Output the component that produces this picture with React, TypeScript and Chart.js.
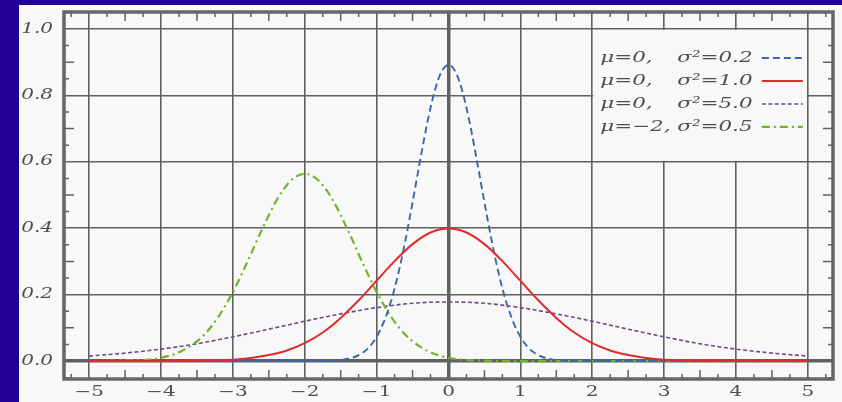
import React, { useEffect, useRef } from "react";
import { Chart, registerables } from "chart.js";

Chart.register(...registerables);

// ---------- data ----------
const blueX = [-5, -2, -1.6, -1.5, -1.4, -1.3, -1.2, -1.1, -1.0, -0.9, -0.8, -0.7, -0.6, -0.5, -0.4, -0.3, -0.2, -0.1, 0, 0.1, 0.2, 0.3, 0.4, 0.5, 0.6, 0.7, 0.8, 0.9, 1.0, 1.1, 1.2, 1.3, 1.4, 1.5, 1.6, 2, 5];
const blueY = [0, 0, 0.001, 0.003, 0.007, 0.013, 0.024, 0.043, 0.073, 0.118, 0.18, 0.262, 0.363, 0.478, 0.598, 0.712, 0.807, 0.87, 0.892, 0.87, 0.807, 0.712, 0.598, 0.478, 0.363, 0.262, 0.18, 0.118, 0.073, 0.043, 0.024, 0.013, 0.007, 0.003, 0.001, 0, 0];

const redX = [-5, -4, -3.5, -3, -2.75, -2.5, -2.25, -2, -1.75, -1.5, -1.25, -1, -0.75, -0.5, -0.25, 0, 0.25, 0.5, 0.75, 1, 1.25, 1.5, 1.75, 2, 2.25, 2.5, 2.75, 3, 3.5, 4, 5];
const redY = [0, 0, 0.001, 0.004, 0.009, 0.018, 0.032, 0.054, 0.086, 0.13, 0.183, 0.242, 0.301, 0.352, 0.387, 0.399, 0.387, 0.352, 0.301, 0.242, 0.183, 0.13, 0.086, 0.054, 0.032, 0.018, 0.009, 0.004, 0.001, 0, 0];

const purpleX = [-5, -4.5, -4, -3.5, -3, -2.5, -2, -1.5, -1, -0.5, 0, 0.5, 1, 1.5, 2, 2.5, 3, 3.5, 4, 4.5, 5];
const purpleY = [0.015, 0.024, 0.036, 0.052, 0.073, 0.096, 0.12, 0.142, 0.161, 0.174, 0.178, 0.174, 0.161, 0.142, 0.12, 0.096, 0.073, 0.052, 0.036, 0.024, 0.015];

const greenX = [-5, -4.6, -4.4, -4.2, -4.0, -3.8, -3.6, -3.4, -3.2, -3.0, -2.8, -2.6, -2.4, -2.2, -2.0, -1.8, -1.6, -1.4, -1.2, -1.0, -0.8, -0.6, -0.4, -0.2, 0, 0.2, 0.4, 0.6, 1, 5];
const greenY = [0, 0.001, 0.002, 0.004, 0.01, 0.022, 0.044, 0.079, 0.134, 0.208, 0.298, 0.394, 0.481, 0.542, 0.564, 0.542, 0.481, 0.394, 0.298, 0.208, 0.134, 0.079, 0.044, 0.022, 0.01, 0.004, 0.002, 0.001, 0, 0];

const muLabels = ["μ=0,", "μ=0,", "μ=0,", "μ=−2,"];
const sigmaLabels = ["σ²=0.2", "σ²=1.0", "σ²=5.0", "σ²=0.5"];

const xTickLabels = ["−5", "−4", "−3", "−2", "−1", "0", "1", "2", "3", "4", "5"];
const xTickValues = [-5, -4, -3, -2, -1, 0, 1, 2, 3, 4, 5];
const yTickLabels = ["0.0", "0.2", "0.4", "0.6", "0.8", "1.0"];
const yTickValues = [0, 0.2, 0.4, 0.6, 0.8, 1.0];

// ---------- styles ----------
const colors = ["#3a68a8", "#dd2c2c", "#6c4a8e", "#72b42c"];
const dashes = [[7, 4], [], [4, 2.5], [8, 4, 2, 4]];
const widths = [1.9, 2, 1.6, 2.2];
const STRETCH = 1.43;

const zip = (xs: number[], ys: number[]) => xs.map((x, i) => ({ x, y: ys[i] }));
const seriesPoints = [zip(blueX, blueY), zip(redX, redY), zip(purpleX, purpleY), zip(greenX, greenY)];

const GRID = "#606060";
const LABEL = "#4e4e4e";

function stretchedText(ctx: CanvasRenderingContext2D, text: string, x: number, y: number, align: CanvasTextAlign) {
  ctx.save();
  ctx.translate(x, y);
  ctx.scale(STRETCH, 1);
  ctx.textAlign = align;
  ctx.fillText(text, 0, 0);
  ctx.restore();
}

const backgroundPlugin = {
  id: "bg",
  beforeDraw(chart: any) {
    const { ctx, width, height } = chart;
    ctx.save();
    ctx.fillStyle = "#22009a";
    ctx.fillRect(0, 0, width, height);
    ctx.fillStyle = "#f8f8f8";
    ctx.fillRect(19, 5, width - 19, height - 5);
    ctx.restore();
  },
};

const framePlugin = {
  id: "frame",
  beforeDatasetsDraw(chart: any) {
    const { ctx, scales } = chart;
    const xs = scales.x;
    const ys = scales.y;
    const lx0 = xs.getPixelForValue(2);
    const lx1 = xs.getPixelForValue(5);
    const ly0 = ys.getPixelForValue(1.0);
    const ly1 = ys.getPixelForValue(0.6);
    ctx.save();
    ctx.fillStyle = "#f8f8f8";
    ctx.fillRect(lx0 + 1, ly0 + 1, lx1 - lx0 - 2, ly1 - ly0 - 2);
    ctx.restore();
  },
  afterDraw(chart: any) {
    const { ctx, chartArea, scales } = chart;
    const xs = scales.x;
    const ys = scales.y;
    const { left, right, top, bottom } = chartArea;
    ctx.save();
    // minor ticks
    ctx.strokeStyle = GRID;
    ctx.lineWidth = 1.5;
    ctx.beginPath();
    for (let i = Math.ceil(xs.min * 4); i <= Math.floor(xs.max * 4); i++) {
      if (i % 4 === 0) continue;
      const p = xs.getPixelForValue(i / 4);
      const len = i % 2 === 0 ? 9 : 5;
      ctx.moveTo(p, bottom);
      ctx.lineTo(p, bottom - len);
      ctx.moveTo(p, top);
      ctx.lineTo(p, top + len);
    }
    for (let i = Math.ceil(ys.min * 20); i <= Math.floor(ys.max * 20); i++) {
      if (i % 4 === 0) continue;
      const p = ys.getPixelForValue(i / 20);
      const len = i % 2 === 0 ? 10 : 5;
      ctx.moveTo(left, p);
      ctx.lineTo(left + len, p);
      ctx.moveTo(right, p);
      ctx.lineTo(right - len, p);
    }
    ctx.stroke();
    // frame
    ctx.lineWidth = 3.5;
    ctx.strokeStyle = "#666666";
    ctx.strokeRect(left, top, right - left, bottom - top);

    // tick labels (horizontally stretched like the reference)
    ctx.fillStyle = LABEL;
    ctx.textBaseline = "middle";
    ctx.font = "14px 'DejaVu Serif'";
    xs.ticks.forEach((t: any, i: number) => {
      const idx = xTickValues.indexOf(t.value);
      if (idx < 0) return;
      stretchedText(ctx, xTickLabels[idx], xs.getPixelForTick(i), bottom + 13, "center");
    });
    ctx.font = "italic 14px 'DejaVu Serif'";
    ys.ticks.forEach((t: any, i: number) => {
      const idx = yTickValues.findIndex((v) => Math.abs(v - t.value) < 1e-6);
      if (idx < 0) return;
      stretchedText(ctx, yTickLabels[idx], left - 11, ys.getPixelForTick(i), "right");
    });

    // legend
    const lx0 = xs.getPixelForValue(2);
    const lx1 = xs.getPixelForValue(5);
    const ly0 = ys.getPixelForValue(1.0);
    ctx.font = "italic 15px 'DejaVu Serif'";
    ctx.fillStyle = "#4e4e4e";
    chart.data.datasets.forEach((ds: any, i: number) => {
      const yy = ly0 + 29 + i * 23;
      stretchedText(ctx, muLabels[i], lx0 + 8, yy, "left");
      stretchedText(ctx, sigmaLabels[i], lx0 + 85, yy, "left");
      ctx.save();
      ctx.strokeStyle = ds.borderColor;
      ctx.lineWidth = ds.borderWidth;
      ctx.setLineDash(ds.borderDash || []);
      ctx.beginPath();
      ctx.moveTo(lx1 - 46, yy);
      ctx.lineTo(lx1 - 5, yy);
      ctx.stroke();
      ctx.restore();
    });
    ctx.restore();
  },
};

export default function App() {
  const ref = useRef<HTMLCanvasElement | null>(null);

  useEffect(() => {
    if (!ref.current) return;
    const chart = new Chart(ref.current, {
      type: "line",
      data: {
        datasets: seriesPoints.map((pts, i) => ({
          label: muLabels[i] + " " + sigmaLabels[i],
          data: pts,
          borderColor: colors[i],
          borderWidth: widths[i],
          borderDash: dashes[i],
          pointRadius: 0,
          fill: false,
          cubicInterpolationMode: "monotone" as const,
          order: [1, 0, 3, 2][i],
        })),
      },
      options: {
        responsive: false,
        animation: false,
        devicePixelRatio: 1,
        parsing: false,
        layout: { padding: { top: 12, right: 9, left: 0, bottom: 0 } },
        plugins: { legend: { display: false }, tooltip: { enabled: false } },
        scales: {
          x: {
            type: "linear",
            min: -5.35,
            max: 5.35,
            afterFit: (s: any) => {
              s.height = 23;
              s.paddingLeft = 0;
              s.paddingRight = 0;
            },
            afterBuildTicks: (s: any) => {
              s.ticks = xTickValues.map((v) => ({ value: v }));
            },
            ticks: { display: false, autoSkip: false, maxRotation: 0 },
            grid: {
              color: GRID,
              lineWidth: (c: any) => (c.tick && c.tick.value === 0 ? 3.5 : 1.6),
              drawTicks: false,
            },
            border: { display: false },
          },
          y: {
            type: "linear",
            min: -0.054,
            max: 1.051,
            afterFit: (s: any) => {
              s.width = 64;
              s.paddingTop = 0;
              s.paddingBottom = 0;
            },
            afterBuildTicks: (s: any) => {
              s.ticks = yTickValues.map((v) => ({ value: v }));
            },
            ticks: { display: false, autoSkip: false },
            grid: {
              color: GRID,
              lineWidth: (c: any) => (c.tick && Math.abs(c.tick.value) < 1e-9 ? 3.5 : 1.6),
              drawTicks: false,
            },
            border: { display: false },
          },
        },
      },
      plugins: [backgroundPlugin, framePlugin],
    });
    return () => chart.destroy();
  }, []);

  return (
    <div style={{ position: "absolute", left: 0, top: 0, width: 842, height: 402 }}>
      <canvas ref={ref} width={842} height={402} style={{ display: "block" }} />
    </div>
  );
}
